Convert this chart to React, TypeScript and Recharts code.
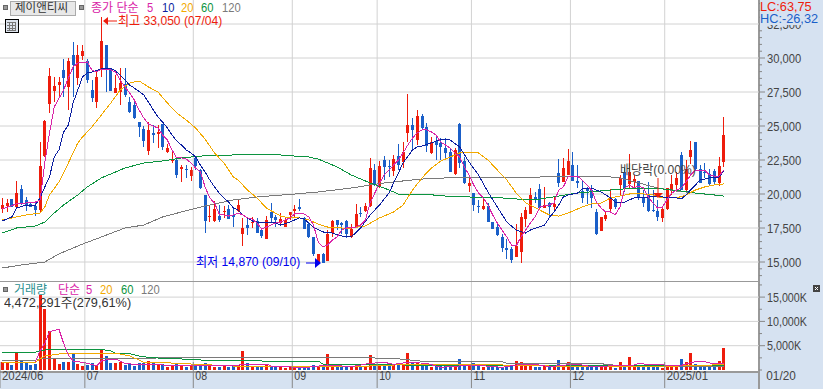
import { Bar, CartesianGrid, ComposedChart, Line, ReferenceLine, XAxis, YAxis } from "recharts";

type Knot = [number, number];

const opens = [18900,19120,19630,19040,20370,19560,19270,19120,18820,22790,26620,27570,28020,29120,27870,30220,28530,30150,29780,27650,26760,29120,30960,29190,27430,27500,28090,26760,26540,25290,24780,23160,24490,24410,25150,23090,22430,22500,21840,21840,21320,22650,21760,19930,18310,18020,18380,18680,18900,18460,18750,17060,17720,17870,18020,17350,16690,18680,18310,17870,17570,18460,18750,19040,18240,17790,16840,14930,15590,15070,17130,18090,17870,18020,16840,17500,18600,18750,19120,21760,20520,22500,22060,21690,22790,22350,24490,25070,23970,25740,24930,23020,23900,23750,23380,23090,21470,25150,22430,20590,20070,19120,18900,19120,17940,17570,16840,16030,15960,15370,15740,18160,18530,19780,20370,18970,19340,19040,21540,20880,21400,22130,20960,20220,20440,20290,18680,17280,18160,18900,19630,20660,21620,20740,20880,20960,19710,20000,18820,18750,18240,18900,20220,20660,22870,20290,22720,23820,21840,21620,21470,21690,20810,22350];
const highs = [19710,19630,19630,20960,20660,19780,19410,19410,23820,25440,29270,28600,28600,29930,30000,31180,30960,30960,29930,28380,28970,33050,30960,29270,28750,29270,29270,27130,26760,25290,25000,25290,25070,25070,25150,23680,23090,22570,22130,22130,21990,22790,21840,19930,19190,19490,19190,19120,19190,18900,19630,18240,18240,18310,18240,17500,18380,19340,18460,18600,18240,18680,19190,19630,18310,17940,16840,15590,15660,17350,18090,18090,17940,18090,17790,19270,19040,19340,22650,22210,22430,22790,22500,22870,23680,23820,27350,25590,26180,25880,25220,24190,24190,24120,24120,23380,23380,25220,22720,21250,20070,19560,19630,19340,17940,17790,17060,16690,16100,17790,18600,19040,20440,20150,20740,20520,19410,19780,22570,22650,23310,23090,22130,21030,20520,20660,18900,18310,18680,20370,19710,21400,21910,22940,21400,20960,20290,20880,20290,19560,18970,20440,21400,21620,23090,22500,23900,23820,22130,22280,21840,21840,22720,25660];
const lows = [18600,18680,19040,18970,19190,18750,19040,18380,18680,22720,25960,26760,27130,27130,26180,27130,28020,29850,28160,26760,26320,28600,27500,27570,27430,26540,27130,25960,25520,24190,23460,22870,23750,23380,23240,23020,22280,21180,20880,21180,20960,21760,20370,17130,17940,17940,17940,18240,18160,17570,18680,16180,16990,17500,17130,16770,16690,17940,17570,17720,17570,18090,18310,18750,17430,16770,15440,14870,14890,15070,16840,17350,17060,16770,16770,17500,18310,18680,19040,20590,20440,21030,21250,21320,21760,21910,23820,23310,23600,24710,23090,22940,22500,22500,22650,21620,21400,21910,20740,20150,18750,18600,18820,17940,17430,16910,15740,15220,14930,15370,14930,17570,18530,19340,18900,18970,18310,18680,20520,20880,21400,20960,20440,19340,19270,18970,16990,17280,18020,18680,18900,19930,20150,20440,20440,19560,19040,18680,18680,18020,17940,18820,19930,20370,20290,20150,22210,21760,20810,21180,20660,20660,20590,21980];
const closes = [19190,19340,19040,20070,19340,19120,19040,18820,22060,25370,28680,27940,28240,28530,29780,29490,30220,30510,28380,27060,28600,31250,29190,27570,27790,28160,27280,26030,25590,24930,23900,24710,24340,24560,23460,23380,22570,21400,21990,21760,21760,22060,20440,18020,18380,18900,18090,18750,18160,18310,19190,17500,17500,17940,17130,16910,18090,18240,18090,18160,18090,18680,18900,18900,17430,16840,15590,15590,14890,17060,18020,17720,17720,17060,17430,18530,18530,19120,21910,20660,22060,21990,21990,22570,22130,23090,25070,24710,25740,24850,23530,23820,23600,23460,23020,21620,23240,22280,20810,20810,19190,19040,19120,17940,17430,16990,16030,15880,15150,16180,18310,18820,19930,19560,18970,19190,19040,19270,20810,21910,22430,20960,20810,19710,20220,19710,17060,18310,18460,19630,19040,21180,20440,21620,21100,19710,19340,18750,18750,18310,18900,20440,20740,21180,20290,21840,23240,21840,20810,21540,20740,20880,22060,24340];
const volumes = [1580,1510,1030,3570,1850,1720,1100,1230,15440,12490,8030,2260,1230,1650,1720,3290,1230,820,1100,1370,1030,4120,2880,1510,1510,1720,1030,1370,820,1370,1370,1850,1370,1030,1230,690,820,1370,820,550,820,820,820,1370,820,550,690,820,550,820,1030,3910,1370,820,690,690,1230,690,550,820,480,820,550,480,480,550,1030,820,820,3290,820,550,550,820,550,1230,550,550,3090,1230,1230,1230,1030,1230,1030,1230,3500,1510,1510,1230,1230,690,890,820,820,820,1030,2200,1230,820,1370,820,550,1030,820,690,690,690,820,1850,1650,890,1030,550,550,820,550,550,2060,820,1650,820,820,820,550,690,690,820,550,820,480,1650,690,2680,820,820,820,820,690,690,480,820,550,550,2260,1650,3500,1230,820,820,620,820,1850,4472];

const ma5: Knot[] = [[0,18900],[3,19270],[7,19410],[8,19560],[9,22280],[10,24490],[11,26400],[13,27650],[14,28530],[15,29340],[16,29630],[18,29710],[19,29120],[20,28970],[21,29190],[23,29120],[24,28970],[25,28380],[26,27870],[27,27430],[28,26910],[29,26180],[30,25590],[31,25150],[32,25000],[33,24850],[34,24340],[35,23970],[36,23240],[37,22650],[38,22650],[39,22570],[40,22280],[41,21910],[42,21620],[43,20520],[44,19710],[45,19340],[46,18530],[47,18460],[48,18380],[49,18460],[50,18600],[51,18460],[52,18240],[53,18160],[54,17870],[55,17430],[56,17570],[57,17720],[58,17870],[59,17940],[61,18240],[62,18530],[64,18530],[65,18310],[66,17720],[67,16470],[68,16100],[69,16250],[70,16620],[71,16840],[72,17350],[73,17500],[74,17570],[75,17570],[76,17720],[77,18090],[78,19340],[79,20070],[80,20810],[81,21400],[82,21760],[83,22130],[84,22500],[85,23020],[86,23600],[87,24120],[88,24490],[89,24710],[90,24710],[91,24560],[92,24340],[93,23820],[94,23600],[95,23380],[96,23020],[97,22720],[98,21990],[99,21400],[100,20660],[101,20070],[102,19710],[103,19190],[104,18460],[105,17870],[106,17350],[107,16840],[108,16250],[109,16180],[110,16840],[111,17350],[112,17870],[113,18310],[114,19040],[115,19120],[116,19190],[117,19340],[118,20290],[119,20520],[120,21250],[121,21320],[122,21320],[123,21030],[124,20660],[125,20290],[126,19410],[127,18970],[128,18680],[129,18680],[130,18460],[131,19040],[132,20440],[133,20660],[134,20440],[135,20590],[136,20440],[137,19780],[138,19340],[139,18970],[140,19040],[141,19560],[142,20070],[143,20290],[144,20440],[145,20880],[146,21400],[147,21760],[148,21760],[149,21760],[150,21400],[151,21320],[152,21320],[153,21760]];
const ma10: Knot[] = [[0,18020],[2,18310],[3,18970],[5,19190],[7,19190],[8,19710],[9,20520],[10,21250],[11,22720],[12,23240],[13,24560],[14,25070],[15,26690],[16,27650],[17,28600],[18,28900],[19,28970],[21,29190],[23,29260],[24,29040],[25,28750],[26,28380],[27,28010],[28,27790],[30,27280],[31,26760],[32,26180],[33,25660],[34,25290],[35,24850],[36,24340],[37,23900],[38,23600],[39,23240],[40,23020],[41,22720],[42,22130],[43,21620],[44,21030],[45,20520],[46,20070],[47,19710],[48,19410],[49,18970],[50,18820],[51,18460],[52,18240],[53,18020],[54,17940],[55,17870],[56,17870],[58,17870],[59,17720],[61,17940],[63,18240],[64,18160],[66,17570],[68,17210],[70,17130],[72,16910],[73,16840],[74,16840],[76,17500],[78,18460],[80,19190],[82,20070],[84,21540],[85,22280],[87,23240],[88,23460],[89,23530],[91,23750],[93,24040],[95,23970],[97,23460],[99,22350],[101,21400],[103,20150],[105,19040],[107,17940],[109,17350],[111,17130],[112,17350],[115,17720],[116,18240],[117,18680],[118,19190],[119,19780],[120,19930],[122,20070],[123,20370],[125,20440],[127,20150],[129,19710],[130,19410],[132,19410],[134,19710],[137,19780],[140,19780],[143,19710],[144,19630],[145,19930],[147,20660],[148,21030],[150,21180],[152,21250],[153,21690]];
const ma20: Knot[] = [[0,18090],[3,18310],[5,18460],[8,18600],[9,19040],[10,19930],[12,20880],[14,22280],[16,23750],[17,24190],[19,24930],[21,25810],[23,26690],[25,27650],[27,28160],[29,28310],[31,27870],[33,27500],[35,26690],[37,25960],[39,25440],[41,24850],[43,24040],[45,23020],[47,22280],[49,21250],[50,21030],[52,20290],[54,19710],[56,18970],[59,18380],[61,18240],[63,18240],[65,18090],[67,17790],[69,17570],[72,17500],[74,17500],[77,17650],[80,18240],[83,18680],[85,19190],[87,20290],[89,21180],[91,21910],[93,22430],[95,22720],[97,23020],[99,23090],[101,23020],[103,22500],[105,21760],[107,21030],[109,20070],[110,19710],[111,19340],[112,19190],[114,18820],[116,18460],[118,18380],[120,18600],[123,19040],[125,19270],[127,19340],[129,19710],[131,19850],[134,20070],[138,19930],[140,19710],[143,19710],[145,19930],[147,20290],[149,20520],[151,20660],[153,20740]];
const ma60: Knot[] = [[0,17130],[3,17500],[7,17650],[9,17940],[11,18600],[13,19190],[16,19930],[18,20520],[21,21180],[24,21620],[26,21910],[30,22280],[34,22430],[38,22650],[42,22790],[49,22870],[53,22940],[59,22870],[62,22790],[65,22720],[67,22570],[71,21990],[74,21400],[78,20810],[81,20440],[84,20000],[89,20000],[94,19850],[99,19780],[106,19710],[112,19560],[114,19630],[118,19850],[122,20070],[129,20290],[134,20440],[139,20440],[140,20370],[144,20220],[147,20070],[151,19930],[153,19850]];
const ma120: Knot[] = [[0,14560],[4,14780],[9,15000],[12,15590],[17,16320],[21,16840],[26,17500],[30,17720],[34,18310],[38,18680],[43,19120],[49,19560],[54,19780],[62,20000],[67,20150],[74,20440],[78,20660],[81,20810],[85,20960],[89,21100],[94,21180],[99,21250],[106,21250],[112,21180],[114,21250],[118,21320],[122,21320],[127,21320],[131,21180],[135,20810],[139,20440],[143,20220],[147,20070],[153,19850]];

const volMa5: Knot[] = [[7,1715],[8,3910],[9,5490],[10,7890],[12,8370],[13,5490],[14,3090],[15,1850],[17,1580],[19,1170],[20,890],[21,1850],[23,2260],[24,2260],[25,1850],[26,1370],[28,1170],[30,1170],[40,820],[50,1000],[52,1230],[56,1230],[57,820],[64,480],[69,1030],[74,690],[78,1370],[81,1580],[83,1170],[86,1580],[90,1370],[93,550],[100,1030],[106,550],[110,1170],[113,1170],[116,690],[121,1170],[122,1170],[125,690],[134,1030],[135,1370],[137,1100],[144,960],[147,1715],[149,1715],[151,1230],[153,1370]];
const volMa20: Knot[] = [[0,1580],[7,1580],[8,2260],[9,2880],[12,3290],[14,3430],[16,3290],[22,3430],[25,3290],[27,2880],[29,2060],[30,1580],[33,1580],[40,1230],[49,820],[57,820],[78,820],[85,1100],[106,1030],[116,820],[139,690],[153,1100]];
const volMa60: Knot[] = [[0,3640],[7,3640],[8,3980],[10,4250],[21,4250],[23,3910],[24,3430],[27,3360],[29,2880],[31,2610],[34,2400],[40,2200],[43,1990],[50,1990],[55,1850],[67,1850],[68,1230],[73,1100],[78,1030],[85,1030],[116,820],[153,960]];
const volMa120: Knot[] = [[0,1990],[7,1990],[8,2330],[31,2330],[34,2610],[71,2610],[83,2400],[85,2200],[88,1920],[90,1715],[106,1715],[107,1370],[127,1370],[128,1100],[129,1100],[131,820],[153,820]];

const monthStarts = [0, 18, 41, 62, 80, 100, 121, 141, 160];
const monthLabels = ["2024/06", "07", "08", "09", "10", "11", "12", "2025/01", "01/20"];
const priceMajor = [15000, 17500, 20000, 22500, 25000, 27500, 30000, 32500];
const priceTicks = [14000,14500,15000,15500,16000,16500,17000,17500,18000,18500,19000,19500,20000,20500,21000,21500,22000,22500,23000,23500,24000,24500,25000,25500,26000,26500,27000,27500,28000,28500,29000,29500,30000,30500,31000,31500,32000,32500,33000,33500,34000];
const volMajor = [5000, 10000, 15000];
const volTicks = [0, 2500, 5000, 7500, 10000, 12500, 15000, 17500];

const SLOTS = 161;
const STEP = 759 / SLOTS;

const RED = "#ee1c0c";
const BLUE = "#1a5fc8";
const MAGENTA = "#d924a8";
const NAVY = "#0c1fa0";
const ORANGE = "#f2a900";
const GREEN = "#0c9440";
const GRAY = "#7a7a7a";
const GRID = "#d2d2d2";
const PANEL = "#d6e2f1";
const FONT = '"Liberation Sans", "Noto Sans CJK KR", sans-serif';
const NARROW = 0.86;

function fromKnots(knots: Knot[]) {
  const out: Record<number, number> = {};
  knots.forEach(([i, v]) => (out[i] = v));
  return out;
}

const m5 = fromKnots(ma5);
const m10 = fromKnots(ma10);
const m20 = fromKnots(ma20);
const m60 = fromKnots(ma60);
const m120 = fromKnots(ma120);
const v5 = fromKnots(volMa5);
const v20 = fromKnots(volMa20);
const v60 = fromKnots(volMa60);
const v120 = fromKnots(volMa120);

const rows = Array.from({ length: SLOTS }, (_, i) => ({
  i,
  open: opens[i],
  high: highs[i],
  low: lows[i],
  close: closes[i],
  volume: volumes[i],
  range: opens[i] === undefined ? undefined : [lows[i], highs[i]],
  m5: m5[i],
  m10: m10[i],
  m20: m20[i],
  m60: m60[i],
  m120: m120[i],
  v5: v5[i],
  v20: v20[i],
  v60: v60[i],
  v120: v120[i],
}));

function Candle(props: any) {
  const { x, y, height, payload } = props;
  if (payload.open === undefined) return null;
  const span = payload.high - payload.low || 1;
  const up = payload.close >= payload.open;
  const color = up ? RED : BLUE;
  const top = y + ((payload.high - Math.max(payload.open, payload.close)) / span) * height;
  const bottom = y + ((payload.high - Math.min(payload.open, payload.close)) / span) * height;
  const left = Math.round(x);
  return (
    <g shapeRendering="crispEdges">
      <rect x={left + 1} y={y} width={1} height={Math.max(height, 1)} fill={color} />
      <rect x={left} y={top} width={3} height={Math.max(bottom - top, 1)} fill={color} />
    </g>
  );
}

function VolumeBar(props: any) {
  const { x, y, height, payload } = props;
  if (payload.volume === undefined) return null;
  return (
    <rect
      x={Math.round(x)}
      y={y}
      width={3}
      height={height}
      fill={payload.close >= payload.open ? RED : BLUE}
      shapeRendering="crispEdges"
    />
  );
}

function AxisTick(props: any) {
  const { x, y, payload, majors, format } = props;
  const major = majors.includes(payload.value);
  const text = major ? format(payload.value) : "";
  return (
    <g>
      <line x1={x} x2={x + (major ? 6 : 3)} y1={y} y2={y} stroke="#888" />
      {major && (
        <text
          x={x + 8}
          y={y + 4.5}
          fontSize={13}
          fontFamily={FONT}
          fill="#444"
          textLength={text.length * 5.7}
          lengthAdjust="spacingAndGlyphs"
        >
          {text}
        </text>
      )}
    </g>
  );
}

function MonthTick(props: any) {
  const { x, y, payload } = props;
  const last = payload.value === 160;
  const left = x - STEP / 2;
  const text = monthLabels[monthStarts.indexOf(payload.value)];
  return (
    <g>
      {!last && <line x1={left} x2={left} y1={y - 8} y2={y + 18} stroke="#888" />}
      <text
        x={left + (last ? 12 : 2)}
        y={y + 10}
        fontSize={13}
        fontFamily={FONT}
        fill="#444"
        textLength={text.length * 5.9}
        lengthAdjust="spacingAndGlyphs"
      >
        {text}
      </text>
    </g>
  );
}

function Label(props: { x: number; y: number; color: string; children: any; size?: number; squeeze?: number }) {
  return (
    <span
      style={{
        position: "absolute",
        left: props.x,
        top: props.y,
        color: props.color,
        fontSize: props.size ?? 13,
        lineHeight: "14px",
        whiteSpace: "nowrap",
        transform: `scaleX(${props.squeeze ?? NARROW})`,
        transformOrigin: "left center",
      }}
    >
      {props.children}
    </span>
  );
}

function Square(props: { x: number; y: number }) {
  return (
    <div
      style={{
        position: "absolute",
        left: props.x,
        top: props.y,
        width: 3,
        height: 3,
        background: "#999",
        border: "1px solid #666",
      }}
    />
  );
}

function lineProps(dataKey: string, stroke: string) {
  return {
    dataKey,
    stroke,
    strokeWidth: 1,
    dot: false,
    activeDot: false,
    connectNulls: true,
    isAnimationActive: false,
    type: "linear" as const,
    shapeRendering: "crispEdges",
  };
}

export default function App() {
  return (
    <div
      style={{
        position: "absolute",
        left: 0,
        top: 0,
        width: 823,
        height: 389,
        overflow: "hidden",
        background: "#fff",
        fontFamily: FONT,
      }}
    >
      <div style={{ position: "absolute", left: 758, top: 0, width: 63, height: 389, background: PANEL, borderLeft: "2px solid #999" }} />
      <div style={{ position: "absolute", left: 0, top: 371, width: 758, height: 16, background: PANEL, borderTop: "2px solid #999" }} />
      <div style={{ position: "absolute", left: 0, top: 281, width: 758, height: 1, background: "#999" }} />

      <div style={{ position: "absolute", left: 0, top: 0 }}>
        <ComposedChart width={823} height={281} data={rows} margin={{ top: 0, right: 0, bottom: 0, left: 0 }} barCategoryGap={0}>
          <CartesianGrid vertical={false} stroke={GRID} horizontalValues={priceMajor} />
          <XAxis dataKey="i" hide />
          <YAxis
            orientation="right"
            width={64}
            domain={[13603, 34265]}
            allowDataOverflow
            ticks={priceTicks}
            interval={0}
            axisLine={false}
            tickLine={false}
            tickMargin={0}
            tickSize={0}
            tick={<AxisTick majors={priceMajor} format={(v: number) => v.toLocaleString("en-US")} />}
          />
          {monthStarts.slice(1, -1).map((m) => (
            <ReferenceLine key={m} x={m} position="start" stroke={GRID} />
          ))}
          <Bar dataKey="range" barSize={3} shape={<Candle />} isAnimationActive={false} />
          <Line {...lineProps("m120", GRAY)} />
          <Line {...lineProps("m60", GREEN)} />
          <Line {...lineProps("m20", ORANGE)} />
          <Line {...lineProps("m10", NAVY)} />
          <Line {...lineProps("m5", MAGENTA)} />
        </ComposedChart>
      </div>

      <div style={{ position: "absolute", left: 0, top: 282 }}>
        <ComposedChart width={823} height={107} data={rows} margin={{ top: 0, right: 0, bottom: 0, left: 0 }} barCategoryGap={0}>
          <CartesianGrid vertical={false} stroke={GRID} horizontalValues={volMajor} />
          <XAxis
            dataKey="i"
            height={19}
            ticks={monthStarts}
            interval={0}
            axisLine={false}
            tickLine={false}
            tickMargin={0}
            tickSize={0}
            tick={<MonthTick />}
          />
          <YAxis
            orientation="right"
            width={64}
            domain={[0, 18107]}
            allowDataOverflow
            ticks={volTicks}
            interval={0}
            axisLine={false}
            tickLine={false}
            tickMargin={0}
            tickSize={0}
            tick={<AxisTick majors={volMajor} format={(v: number) => `${v.toLocaleString("en-US")}K`} />}
          />
          {monthStarts.slice(1, -1).map((m) => (
            <ReferenceLine key={m} x={m} position="start" stroke={GRID} />
          ))}
          <Bar dataKey="volume" barSize={3} shape={<VolumeBar />} isAnimationActive={false} />
          <Line {...lineProps("v120", GRAY)} />
          <Line {...lineProps("v60", GREEN)} />
          <Line {...lineProps("v20", ORANGE)} />
          <Line {...lineProps("v5", MAGENTA)} />
        </ComposedChart>
      </div>

      <div style={{ position: "absolute", left: 760, top: 0, width: 63, height: 25, background: PANEL }} />
      <Label x={760} y={0} color="#ee1c0c" squeeze={0.98}>LC:63,75</Label>
      <Label x={760} y={12} color="#1a5fc8" squeeze={0.98}>HC:-26,32</Label>

      <Square x={3} y={5} />
      <div style={{ position: "absolute", left: 10, top: 1, width: 64, height: 13, background: "#e8e8e8", border: "1px solid #aaa" }} />
      <Label x={15} y={1} color="#333" size={12} squeeze={0.96}>제이앤티씨</Label>
      <Square x={79} y={5} />
      <Label x={91} y={1} color={MAGENTA} size={12} squeeze={1}>종가 단순</Label>
      <Label x={147} y={1} color={MAGENTA}>5</Label>
      <Label x={162} y={1} color={NAVY}>10</Label>
      <Label x={181} y={1} color={ORANGE}>20</Label>
      <Label x={201} y={1} color={GREEN}>60</Label>
      <Label x={222} y={1} color={GRAY}>120</Label>
      <svg width={16} height={16} style={{ position: "absolute", left: 4, top: 18 }} shapeRendering="crispEdges">
        <rect x={1} y={1} width={13} height={13} fill="#dde4ee" stroke="#000" />
        <path d="M3 4H12M3 7H12M3 10H12M3 12H12M5 4V12M8 4V12M11 4V12" stroke="#777" fill="none" />
      </svg>

      <svg width={823} height={389} style={{ position: "absolute", left: 0, top: 0 }}>
        <polygon points="103,21 108,17 108,25" fill={RED} />
        <line x1={108} x2={117} y1={21} y2={21} stroke={RED} />
        <line x1={306} x2={316} y1={263} y2={263} stroke="#0000ee" />
        <polygon points="321,263 315,258 315,268" fill="#0000ee" />
        <line x1={658} x2={658} y1={178} y2={193} stroke={RED} />
        <polygon points="653,193 663,193 658,198" fill={RED} />
        <rect x={813} y={285} width={7} height={7} fill="#444" />
        <path d="M815 287L818 290M818 287L815 290" stroke="#fff" />
      </svg>
      <Label x={118} y={14} color={RED} squeeze={0.93}>최고 33,050 (07/04)</Label>
      <Label x={196} y={255} color="#0000ee" squeeze={0.93}>최저 14,870 (09/10)</Label>
      <Label x={620} y={163} color="#444" squeeze={0.93}>배당락(0.00%)</Label>

      <Square x={3} y={287} />
      <Label x={14} y={283} color="#2a9090" size={12} squeeze={1}>거래량</Label>
      <Label x={58} y={283} color={MAGENTA} size={12} squeeze={1}>단순</Label>
      <Label x={86} y={283} color={MAGENTA}>5</Label>
      <Label x={100} y={283} color={ORANGE}>20</Label>
      <Label x={121} y={283} color={GREEN}>60</Label>
      <Label x={141} y={283} color={GRAY}>120</Label>
      <Label x={4} y={296} color="#333" squeeze={0.98}>4,472,291주(279,61%)</Label>
    </div>
  );
}
